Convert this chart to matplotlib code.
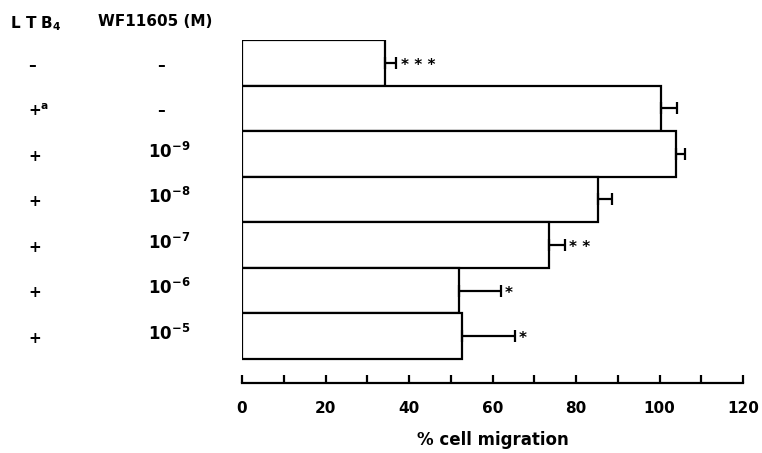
import numpy as np
import matplotlib
matplotlib.use("Agg")
import matplotlib.pyplot as plt
import matplotlib.transforms as mtransforms

# data
ltb4 = ["\u2013", "+$^{\\mathbf{a}}$", "+", "+", "+", "+", "+"]
wf_conc = ["\u2013", "\u2013", "$\\mathbf{10^{-9}}$", "$\\mathbf{10^{-8}}$",
           "$\\mathbf{10^{-7}}$", "$\\mathbf{10^{-6}}$", "$\\mathbf{10^{-5}}$"]
migration = [34.3, 100.3, 103.9, 85.3, 73.5, 51.9, 52.8]
err = [2.7, 4.0, 2.1, 3.4, 3.8, 10.1, 12.5]
stars = ["* * *", "", "", "", "* *", "*", "*"]

plt.rcParams["font.family"] = "DejaVu Sans"
plt.rcParams["font.weight"] = "bold"
plt.rcParams["mathtext.default"] = "bf"

fig = plt.figure(figsize=(7.62, 4.53), dpi=100)
ax = fig.add_axes([242/762, 1 - 383/453, 501/762, 343/453])

y = np.arange(len(migration))
ax.barh(y, migration, height=1.0, left=0, color="white",
        edgecolor="black", linewidth=1.6)
ax.errorbar(migration, y, xerr=[np.zeros(len(err)), err], fmt="none",
            ecolor="black", elinewidth=1.6, capsize=4.5, capthick=1.6)

for i in range(len(migration)):
    if stars[i]:
        ax.text(migration[i] + err[i] + 1.0, y[i] + 0.06, stars[i],
                ha="left", va="center", fontsize=11, fontweight="bold")

ax.set_xlim(0, 120)
ax.set_ylim(len(migration) - 0.5 + 0.53, -0.5)

for s in ["left", "right", "top"]:
    ax.spines[s].set_visible(False)
ax.spines["bottom"].set_linewidth(1.6)

ax.set_yticks([])
ax.set_xticks(np.arange(0, 121, 20))
ax.set_xticks(np.arange(0, 121, 10), minor=True)
ax.tick_params(axis="x", which="both", direction="in", length=6, width=1.6,
               labelsize=11, pad=13)
for lab in ax.get_xticklabels():
    lab.set_fontweight("bold")
ax.set_xlabel("% cell migration", fontsize=12, fontweight="bold", labelpad=11)

# row labels on the left
trans = mtransforms.blended_transform_factory(fig.transFigure, ax.transData)
for i in range(len(migration)):
    ax.text(28/762, y[i] + 0.05, ltb4[i], transform=trans, ha="left",
            va="center", fontsize=11, fontweight="bold", clip_on=False)
    if wf_conc[i] == "\u2013":
        ax.text(157/762, y[i] + 0.05, wf_conc[i], transform=trans, ha="left",
                va="center", fontsize=11, fontweight="bold", clip_on=False)
    else:
        ax.text(148/762, y[i] - 0.05, wf_conc[i], transform=trans, ha="left",
                va="center", fontsize=12, fontweight="bold", clip_on=False)

fig.text(10/762, 1 - 24/453, "L T B$_{4}$", ha="left", va="center",
         fontsize=11, fontweight="bold")
fig.text(98/762, 1 - 22/453, "WF11605 (M)", ha="left", va="center",
         fontsize=11, fontweight="bold")

fig.savefig("out.png", dpi=100)
